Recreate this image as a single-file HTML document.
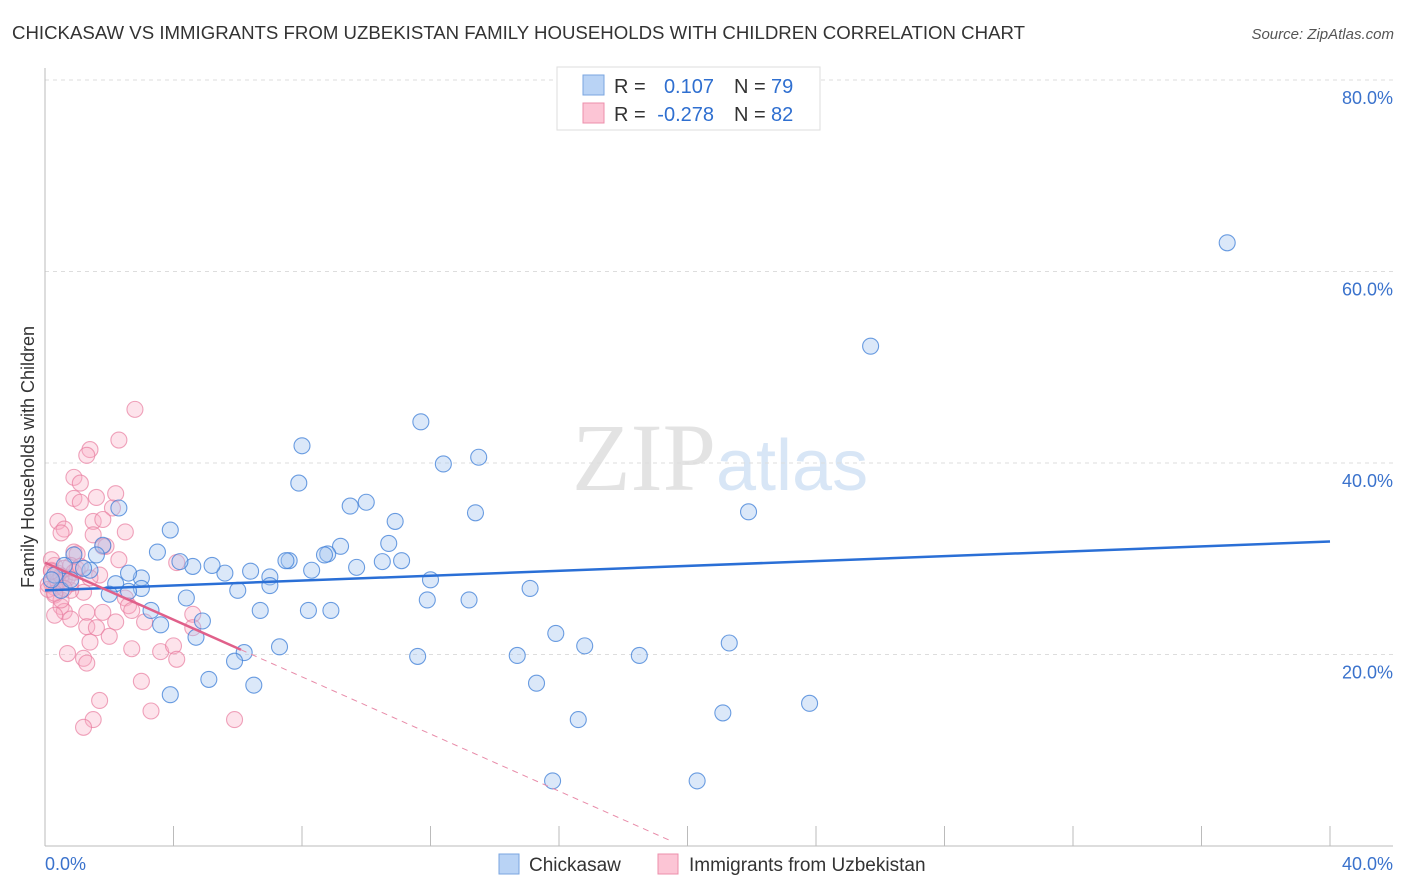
<!DOCTYPE html>
<html><head><meta charset="utf-8">
<style>
body{margin:0;background:#fff;font-family:"Liberation Sans",sans-serif;}
svg{display:block}
</style></head>
<body>
<svg id="chart" width="1406" height="892" xmlns="http://www.w3.org/2000/svg">
<text x="12" y="39" font-size="18" fill="#333" textLength="1013" lengthAdjust="spacingAndGlyphs">CHICKASAW VS IMMIGRANTS FROM UZBEKISTAN FAMILY HOUSEHOLDS WITH CHILDREN CORRELATION CHART</text>
<text x="1394" y="39" font-size="15" fill="#555" font-style="italic" text-anchor="end">Source: ZipAtlas.com</text>
<text x="716" y="490" font-size="96" fill="#e3e3e3" font-family="Liberation Serif,serif" text-anchor="end">ZIP</text>
<text x="716" y="490" font-size="72" fill="#d8e6f6">atlas</text>
<text transform="translate(34,457) rotate(-90)" font-size="18" fill="#333" text-anchor="middle">Family Households with Children</text>
<g id="grid"></g><g id="marks"></g>
<g>
<rect x="557" y="67" width="263" height="63" fill="#fff" stroke="#ddd"/>
<rect x="583" y="75" width="21" height="20" fill="#b9d3f5" stroke="#7aa6e0"/>
<rect x="583" y="103" width="21" height="20" fill="#fcc5d5" stroke="#ec8fab"/>
<text x="614" y="93" font-size="20" fill="#333">R =</text>
<text x="714" y="93" font-size="20" fill="#2f6fd0" text-anchor="end">0.107</text>
<text x="734" y="93" font-size="20" fill="#333">N =</text>
<text x="771" y="93" font-size="20" fill="#2f6fd0">79</text>
<text x="614" y="121" font-size="20" fill="#333">R =</text>
<text x="714" y="121" font-size="20" fill="#2f6fd0" text-anchor="end">-0.278</text>
<text x="734" y="121" font-size="20" fill="#333">N =</text>
<text x="771" y="121" font-size="20" fill="#2f6fd0">82</text>
</g>
<g>
<rect x="499" y="854" width="20" height="20" fill="#b9d3f5" stroke="#7aa6e0"/>
<text x="529" y="871" font-size="19" fill="#333">Chickasaw</text>
<rect x="658" y="854" width="20" height="20" fill="#fcc5d5" stroke="#ec8fab"/>
<text x="689" y="871" font-size="19" fill="#333">Immigrants from Uzbekistan</text>
</g>
<text x="45" y="870" font-size="18" fill="#3a72cc">0.0%</text>
<text x="1393" y="870" font-size="18" fill="#3a72cc" text-anchor="end">40.0%</text>
</svg>
<script>
const yTicks=[20,40,60,80];
const xTickCount=10;
const blueX=[36.8,25.7,21.9,21.3,23.8,21.1,20.3,18.5,16.8,15.9,16.6,15.8,15.3,14.7,15.1,13.5,13.4,13.2,12.4,11.7,12.0,11.9,11.6,11.1,10.9,10.7,10.5,9.7,10.0,9.5,9.2,8.8,8.7,8.3,8.0,7.9,8.2,8.9,7.6,7.5,7.0,7.0,7.3,6.7,6.4,6.5,6.2,5.9,6.0,5.6,5.2,5.1,4.9,4.7,4.6,4.4,4.2,3.9,3.9,3.6,3.5,3.3,3.0,3.0,2.6,2.6,2.3,2.2,2.0,1.8,1.6,1.4,1.2,0.9,0.6,0.3,0.5,0.2,0.8];
const blueY=[63.0,52.2,34.9,21.2,14.9,13.9,6.8,19.9,20.9,22.2,13.2,6.8,17.0,19.9,26.9,40.6,34.8,25.7,39.9,44.3,27.8,25.7,19.8,29.8,33.9,31.6,29.7,29.1,35.9,35.5,31.3,30.5,30.4,28.8,41.8,37.9,24.6,24.6,29.8,29.8,28.1,27.2,20.8,24.6,28.7,16.8,20.2,19.3,26.7,28.5,29.3,17.4,23.5,21.8,29.2,25.9,29.7,33.0,15.8,23.1,30.7,24.6,28.0,26.9,28.5,26.6,35.3,27.4,26.3,31.4,30.4,28.8,29.0,30.4,29.3,28.3,26.7,27.8,27.8];
const pinkX=[2.8,2.3,1.4,1.3,0.9,1.1,0.9,1.1,1.6,2.2,2.1,0.4,0.6,0.5,1.5,2.5,1.5,1.8,1.9,0.9,1.0,2.3,0.3,0.2,0.8,4.1,0.5,0.6,1.7,1.2,0.8,0.3,2.5,2.6,0.5,0.6,1.8,0.3,0.8,1.3,1.3,1.6,2.2,3.1,4.6,4.6,2.0,1.4,2.7,3.6,4.0,4.1,0.7,1.2,1.3,3.0,3.3,1.7,1.5,1.2,5.9,2.7,0.5,0.1,0.2,1.8,0.4,0.7,0.2,1.0,0.3,0.6,0.9,0.1,0.4,0.5,0.8,1.1,0.2,0.6,0.3,1.4];
const pinkY=[45.6,42.4,41.4,40.8,38.5,37.9,36.3,35.9,36.4,36.8,35.3,33.9,33.1,32.7,33.9,32.8,32.5,31.3,31.3,30.7,30.5,29.9,29.3,28.8,29.3,29.6,27.8,27.9,28.3,26.5,26.7,26.2,25.9,25.1,25.0,24.5,24.4,24.1,23.7,24.4,22.9,22.8,23.4,23.4,24.2,22.8,21.9,21.3,20.6,20.3,20.9,19.5,20.1,19.6,19.1,17.2,14.1,15.2,13.2,12.4,13.2,24.6,25.7,27.3,29.9,34.1,28.5,28.0,27.5,28.9,27.0,29.0,28.6,26.8,27.6,28.2,27.4,29.2,28.7,26.9,26.4,28.0];
const blueFit=[26.7,31.8];
const pinkFit=[29.6,20.5];
const pinkSolidEnd=6.1, pinkDashEnd=19.5;
const sx=v=>45+v/40*1285;
const sy=v=>846-v*9.575;
const NS="http://www.w3.org/2000/svg";
function mk(tag,attrs,parent){const e=document.createElementNS(NS,tag);for(const k in attrs)e.setAttribute(k,attrs[k]);parent.appendChild(e);return e;}
const grid=document.getElementById('grid'),marks=document.getElementById('marks');
yTicks.forEach(t=>{
  const l=mk('line',{x1:45,x2:1393,y1:sy(t),y2:sy(t),stroke:'#ddd','stroke-dasharray':'4,4'},grid);
  
  
  const tx=mk('text',{x:1393,y:sy(t)+24,'font-size':18,fill:'#3a72cc','text-anchor':'end'},grid);
  tx.textContent=t.toFixed(1)+'%';
  
  
});
const ax=mk('line',{x1:45,x2:45,y1:68,y2:846,stroke:'#bbb'},grid);


const bx=mk('line',{x1:45,x2:1393,y1:846,y2:846,stroke:'#bbb'},grid);


for(let i=1;i<=xTickCount;i++){
  const t=mk('line',{x1:sx(i*4),x2:sx(i*4),y1:826,y2:846,stroke:'#bbb'},grid);
  
  
}
pinkX.forEach((x,i)=>{
  const c=mk('circle',{cx:sx(x),cy:sy(pinkY[i]),r:8,fill:'rgba(248,175,198,0.35)',stroke:'rgba(232,125,160,0.7)','stroke-width':1.1},marks);
  
  
});
blueX.forEach((x,i)=>{
  const c=mk('circle',{cx:sx(x),cy:sy(blueY[i]),r:8,fill:'rgba(165,198,240,0.4)',stroke:'rgba(60,125,215,0.75)','stroke-width':1.1},marks);
  
  
});
const bl=mk('line',{x1:sx(0),y1:sy(blueFit[0]),x2:sx(40),y2:sy(blueFit[1]),stroke:'#2a6fd6','stroke-width':2.5},marks);


const slope=(pinkFit[1]-pinkFit[0])/pinkSolidEnd;
const pl=mk('line',{x1:sx(0),y1:sy(pinkFit[0]),x2:sx(pinkSolidEnd),y2:sy(pinkFit[1]),stroke:'#e0608a','stroke-width':2.5},marks);


const pd=mk('line',{x1:sx(pinkSolidEnd),y1:sy(pinkFit[1]),x2:sx(pinkDashEnd),y2:sy(pinkFit[0]+slope*pinkDashEnd),stroke:'#e88aa8','stroke-width':1,'stroke-dasharray':'6,5'},marks);


</script>
</body></html>
